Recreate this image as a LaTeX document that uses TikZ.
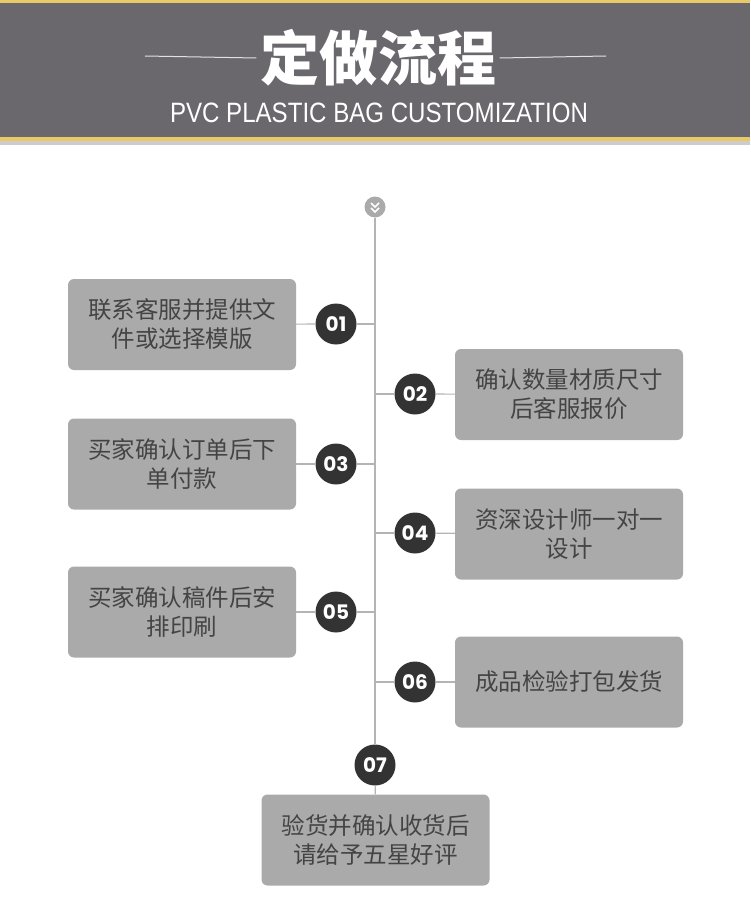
\documentclass[tikz,border=0pt]{standalone}
\usepackage{fontspec}
\setmainfont{Noto Sans CJK SC}
\newfontfamily\numfont{Poppins}
\newfontfamily\subfont{Liberation Sans}
\definecolor{bandgray}{HTML}{6A686D}
\definecolor{bandgold}{HTML}{E9C867}
\definecolor{boxgray}{HTML}{AAAAAA}
\definecolor{boxtext}{HTML}{444444}
\definecolor{dotdark}{HTML}{333333}
\definecolor{spinegray}{HTML}{B4B4B4}
\begin{document}
\begin{tikzpicture}[x=1pt,y=-1pt,
  stepbox/.style={fill=boxgray, rounded corners=6pt, minimum width=228pt, minimum height=91pt, text width=210pt, align=center, text=boxtext, font=\fontsize{23.5}{29}\selectfont},
  numdot/.style={circle, fill=dotdark, minimum size=41pt, inner sep=0pt, text=white, font=\numfont\bfseries\fontsize{20}{20}\selectfont},
  branch/.style={draw=spinegray, line width=1.2pt}]
\useasboundingbox (0,0) rectangle (750,899);
% header band
\fill[bandgray] (0,0) rectangle (750,141);
\fill[bandgold] (0,0) rectangle (750,3);
\fill[bandgold] (0,137) rectangle (750,141);
\fill[gray!40] (0,141) rectangle (750,145);
\node[text=white, font=\bfseries\fontsize{59}{59}\selectfont] (title) at (378,58) {定做流程};
\draw[white!80!bandgray, line width=1pt] (145,56) -- (title.west);
\draw[white!80!bandgray, line width=1pt] (title.east) -- (606,56);
\node[text=white, font=\subfont\fontsize{28}{28}\selectfont, xscale=0.86] (sub) at (379,113) {PVC PLASTIC BAG CUSTOMIZATION};
% spine
\node[circle, fill=boxgray, minimum size=21pt, inner sep=0pt] (top) at (375,207) {};
\draw[white, line width=1.6pt] (371,203) -- (375,207) -- (379,203);
\draw[white, line width=1.6pt] (371,208) -- (375,212) -- (379,208);
\node[numdot] (n7) at (375,765) {07};
\node[stepbox] (s7) at (375.5,840) {验货并确认收货后\\请给予五星好评};
\draw[branch] (top) -- (n7);
\draw[branch] (n7) -- (s7);
% left steps
\node[stepbox] (s1) at (182,324.5) {联系客服并提供文\\件或选择模版};
\node[numdot] (n1) at (336,324) {01};
\coordinate (j1) at (375,324);
\node[stepbox] (s3) at (182,464) {买家确认订单后下\\单付款};
\node[numdot] (n3) at (336,464) {03};
\coordinate (j3) at (375,464);
\node[stepbox] (s5) at (182,612) {买家确认稿件后安\\排印刷};
\node[numdot] (n5) at (336,612) {05};
\coordinate (j5) at (375,612);
% right steps
\node[stepbox] (s2) at (569,394.5) {确认数量材质尺寸\\后客服报价};
\node[numdot] (n2) at (415,394) {02};
\coordinate (j2) at (375,394);
\node[stepbox] (s4) at (569,534) {资深设计师一对一\\设计};
\node[numdot] (n4) at (415,533) {04};
\coordinate (j4) at (375,533);
\node[stepbox] (s6) at (569,682) {成品检验打包发货};
\node[numdot] (n6) at (415,682) {06};
\coordinate (j6) at (375,682);
\foreach \i in {1,...,6}{
  \draw[branch] (s\i) -- (n\i);
  \draw[branch] (n\i) -- (j\i);
}
\end{tikzpicture}
\end{document}
